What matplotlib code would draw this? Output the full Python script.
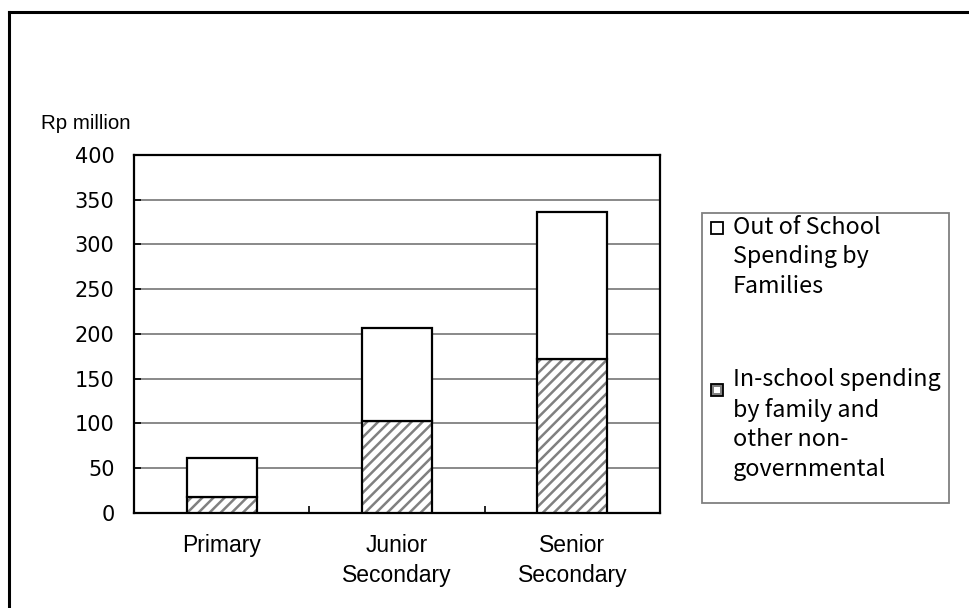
import matplotlib.pyplot as plt
from matplotlib.patches import Rectangle
from matplotlib.lines import Line2D
import numpy as np

# ─── data ────────────────────────────────────────────────────────────────
levels = ['Primary', 'Junior\nSecondary', 'Senior\nSecondary']
in_school = [17, 103, 172]        # in-school spending by family / non-gov
out_school = [44, 104, 164]       # out of school spending by families (stacked on top)
y_ticks = [0, 50, 100, 150, 200, 250, 300, 350, 400]

legend_labels = ['Out of School\nSpending by\nFamilies',
                 'In-school spending\nby family and\nother non-\ngovernmental']

W, H = 969, 608
DPI = 100
plt.rcParams['hatch.linewidth'] = 1.8

num_font = ['DejaVu Sans']
leg_font = ['Noto Sans CJK JP', 'DejaVu Sans']
lab_font = ['Liberation Sans', 'DejaVu Sans']

fig = plt.figure(figsize=(W / DPI, H / DPI), dpi=DPI)
ax = fig.add_axes([134 / W, 1 - 512.7 / H, (660 - 134) / W, (512.7 - 155) / H])

x = np.arange(len(levels))
bw = 0.4

# hatched lower part: grey stripes first, then black outline on top
ax.bar(x, in_school, bw, color='white', edgecolor='#808080', hatch='///',
       linewidth=0, zorder=3)
ax.bar(x, in_school, bw, fill=False, edgecolor='black', linewidth=1.6, zorder=4)
ax.bar(x, out_school, bw, bottom=in_school, color='white', edgecolor='black',
       linewidth=1.6, zorder=4)

ax.set_xlim(-0.5, 2.5)
ax.set_ylim(0, 400)
ax.set_yticks(y_ticks)
ax.set_yticklabels([str(v) for v in y_ticks], fontsize=15, family=num_font)
ax.tick_params(axis='y', direction='in', length=5, width=1.2, pad=14)

ax.set_xticks(x)
ax.set_xticklabels(levels, fontsize=16.5, family=lab_font, linespacing=1.4)
ax.tick_params(axis='x', which='major', length=0, pad=15)
ax.set_xticks([0.5, 1.5], minor=True)
ax.tick_params(axis='x', which='minor', direction='in', length=5, width=1.2)

ax.yaxis.grid(True, color='#808080', linewidth=1.3, zorder=0)
ax.set_axisbelow(True)
for s in ax.spines.values():
    s.set_linewidth(1.6)
    s.set_color('black')

fig.text(41 / W, 1 - 129 / H, 'Rp million', fontsize=14.8, family=lab_font,
         ha='left', va='baseline')

# ─── legend drawn by hand ─────────────────────────────────────────────────
fig.patches.append(Rectangle((702 / W, 1 - 503 / H), 247 / W, 290 / H,
                             transform=fig.transFigure, facecolor='white',
                             edgecolor='#808080', linewidth=1.3))
key_tops = [222, 384]
text_tops = [216, 368]
for i, lab in enumerate(legend_labels):
    kw = dict(transform=fig.transFigure, linewidth=1.3, edgecolor='black')
    if i == 0:
        fig.patches.append(Rectangle((711 / W, 1 - (key_tops[i] + 12) / H),
                                     12 / W, 12 / H, facecolor='white', **kw))
    else:
        fig.patches.append(Rectangle((711 / W, 1 - (key_tops[i] + 12) / H),
                                     12 / W, 12 / H, facecolor='#808080', **kw))
        fig.patches.append(Rectangle((714 / W, 1 - (key_tops[i] + 9) / H),
                                     6 / W, 6 / H, transform=fig.transFigure,
                                     facecolor='white', edgecolor='none',
                                     hatch='//////', linewidth=0))
    fig.text(733 / W, 1 - text_tops[i] / H, lab, fontsize=16.8, family=leg_font,
             ha='left', va='top', linespacing=1.36)

# outer frame (top and left edges only)
fig.add_artist(Line2D([8.5 / W, 1], [1 - 11.5 / H, 1 - 11.5 / H],
                      transform=fig.transFigure, color='black', linewidth=2.2))
fig.add_artist(Line2D([8.5 / W, 8.5 / W], [0, 1 - 11.5 / H],
                      transform=fig.transFigure, color='black', linewidth=2.2))

fig.savefig('out.png', dpi=DPI)
